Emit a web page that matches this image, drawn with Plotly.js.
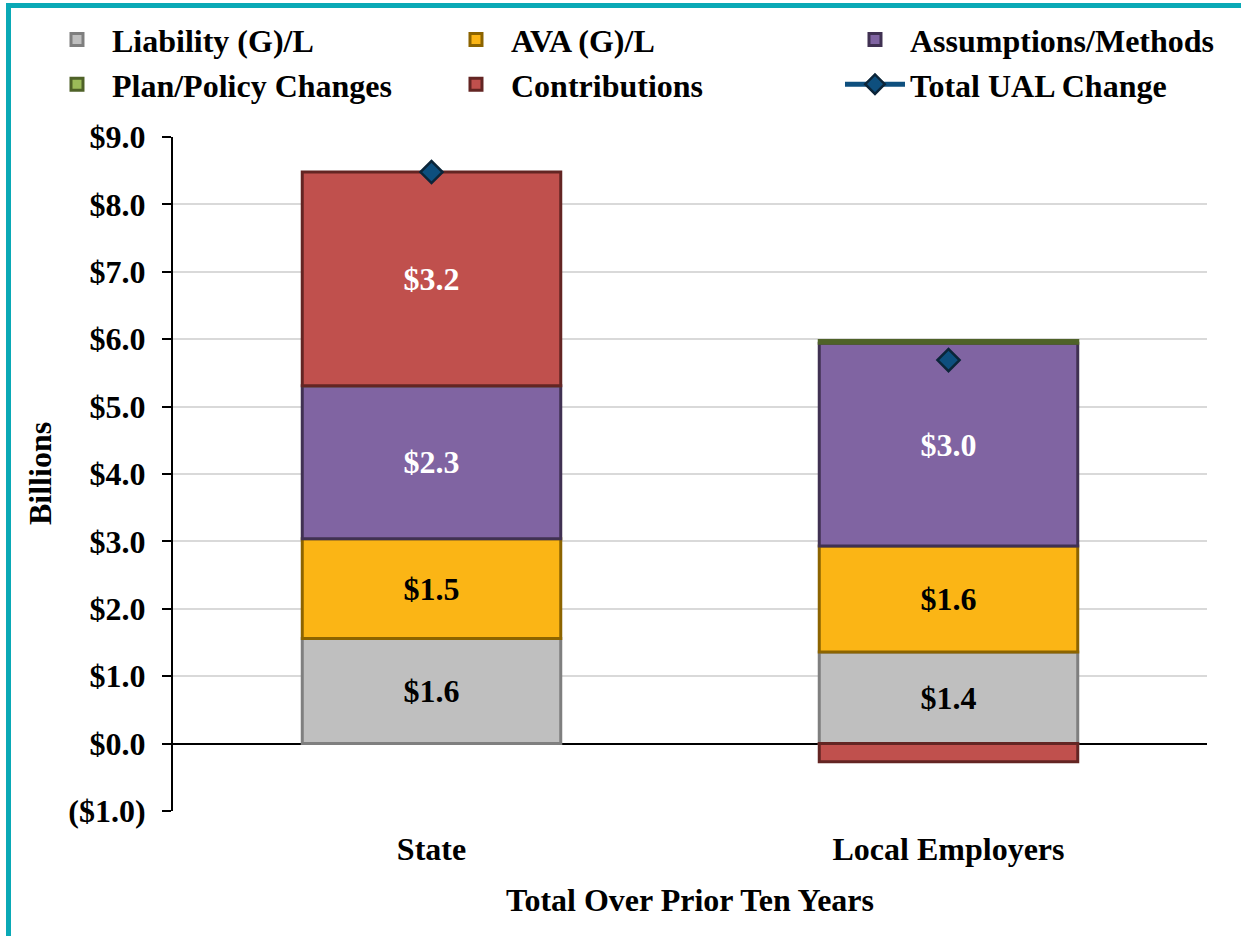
<!DOCTYPE html>
<html>
<head>
<meta charset="utf-8">
<script src="https://cdn.plot.ly/plotly-3.0.1.min.js"></script>
<style>
  html, body { margin: 0; padding: 0; background: #fff; }
  #frame {
    position: absolute; left: 6px; top: 3px; width: 1235px; height: 933px;
    border-left: 5px solid #0AA9B6; border-top: 5px solid #0AA9B6;
    box-sizing: border-box;
  }
  #plt { position: absolute; left: 0; top: 0; width: 1241px; height: 936px; }
</style>
</head>
<body>
<div id="frame"></div>
<div id="plt"></div>
<script>
// values in $ billions
var groups = ['State', 'Local Employers'];
var liability = [1.56, 1.36];
var ava = [1.48, 1.57];
var assumptions = [2.27, 3.01];
var planChanges = [0.0, 0.04];
var contributions = [3.17, -0.27];
var totalUAL = [8.48, 5.69];

var tickVals = [-1, 0, 1, 2, 3, 4, 5, 6, 7, 8, 9];
var tickText = ['($1.0)', '$0.0', '$1.0', '$2.0', '$3.0', '$4.0', '$5.0', '$6.0', '$7.0', '$8.0', '$9.0'];

var font = "'Liberation Serif', 'Times New Roman', serif";
var fs = 32;

function lbl(arr) {
    return arr.map(function (v) { return '<b>$' + v.toFixed(1) + '</b>'; });
}

function barTrace(name, y, fill, edge, txt, txtColor) {
    return {
        x: groups,
        y: y,
        name: name,
        type: 'bar',
        width: 0.5,
        marker: { color: fill, line: { color: edge, width: 3 } },
        text: txt,
        textposition: txt ? 'inside' : 'none',
        insidetextanchor: 'middle',
        textangle: 0,
        textfont: { family: font, size: fs, color: txtColor },
        hoverinfo: 'y'
    };
}

var data = [
    barTrace('Liability (G)/L', liability, '#BFBFBF', '#7F7F7F', lbl(liability), '#000'),
    barTrace('AVA (G)/L', ava, '#FBB515', '#8C6400', lbl(ava), '#000'),
    barTrace('Assumptions/Methods', assumptions, '#8064A2', '#403152', lbl(assumptions), '#fff'),
    barTrace('Plan/Policy Changes', planChanges, '#9BBB59', '#4F6228', null, '#000'),
    barTrace('Contributions', contributions, '#C0504D', '#632523', [lbl(contributions)[0], ''], '#fff'),
    {
        x: groups,
        y: totalUAL,
        name: 'Total UAL Change',
        type: 'scatter',
        mode: 'markers',
        showlegend: false,
        marker: { symbol: 'diamond', size: 17, color: '#0E4F7E', line: { color: '#0B2539', width: 2.5 } }
    },
    {   // legend-only entry so the key shows line + marker
        x: [null],
        y: [null],
        name: 'Total UAL Change',
        type: 'scatter',
        mode: 'lines+markers',
        line: { color: '#0E4F7E', width: 5 },
        marker: { symbol: 'diamond', size: 15, color: '#0E4F7E', line: { color: '#0B2539', width: 2.5 } }
    }
];

var layout = {
    width: 1241,
    height: 936,
    paper_bgcolor: 'rgba(0,0,0,0)',
    plot_bgcolor: '#fff',
    margin: { l: 173, r: 34, t: 137, b: 125, autoexpand: false },
    barmode: 'relative',
    font: { family: font, size: fs, color: '#000' },
    showlegend: true,
    legend: {
        orientation: 'h',
        x: -0.1267, xref: 'paper', xanchor: 'left',
        y: 1.185, yref: 'paper', yanchor: 'top',
        entrywidth: 324,
        itemwidth: 60,
        traceorder: 'normal',
        font: { family: font, size: fs, color: '#000', weight: 'bold' }
    },
    annotations: [{
        text: '<b>Billions</b>',
        xref: 'paper', yref: 'paper',
        x: -0.1286, y: 0.5,
        xanchor: 'center', yanchor: 'middle',
        textangle: -90,
        showarrow: false,
        font: { family: font, size: fs, color: '#000' }
    }],
    xaxis: {
        type: 'category',
        showline: false,
        showgrid: false,
        ticks: '',
        ticklabelstandoff: 16,
        tickfont: { family: font, size: fs, weight: 'bold' },
        title: { text: '<b>Total Over Prior Ten Years</b>', font: { family: font, size: fs }, standoff: 22 }
    },
    yaxis: {
        range: [-1, 9],
        tickvals: tickVals,
        ticktext: tickText,
        tickfont: { family: font, size: fs, weight: 'bold' },
        ticklabelstandoff: 10,
        showline: true,
        linecolor: '#000',
        linewidth: 2,
        ticks: 'outside',
        ticklen: 9,
        tickwidth: 2,
        tickcolor: '#000',
        gridcolor: '#D9D9D9',
        gridwidth: 1.5,
        zeroline: true,
        zerolinecolor: '#000',
        zerolinewidth: 2
    }
};

Plotly.newPlot('plt', data, layout, { displayModeBar: false });
</script>
</body>
</html>
